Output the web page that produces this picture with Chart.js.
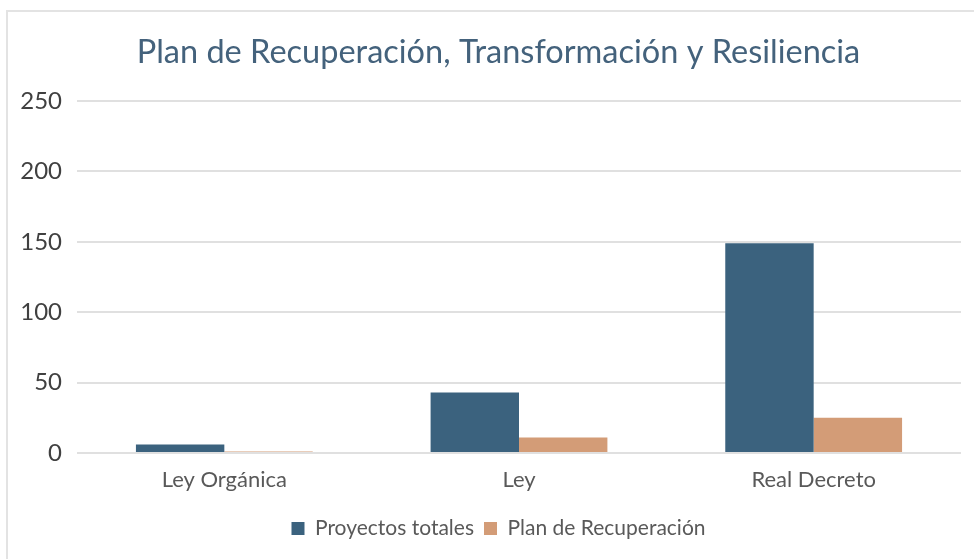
<!DOCTYPE html>
<html>
<head>
<meta charset="utf-8">
<script src="https://cdn.jsdelivr.net/npm/chart.js@4/dist/chart.umd.min.js"></script>
<style>
  html, body { margin: 0; padding: 0; background: #fff; }
  #wrap { position: relative; width: 974px; height: 559px; overflow: hidden; }
  #frame { position: absolute; left: 6px; top: 10px; width: 1000px; height: 600px; border: 2px solid #e3e3e3; box-sizing: border-box; pointer-events: none; }
  canvas { position: absolute; left: 0; top: 0; }
</style>
</head>
<body>
<div id="wrap">
  <div id="frame"></div>
  <canvas id="c" width="974" height="559"></canvas>
</div>
<script>
const titleText = 'Plan de Recuperación, Transformación y Resiliencia';
const categories = ['Ley Orgánica', 'Ley', 'Real Decreto'];
const seriesNames = ['Proyectos totales', 'Plan de Recuperación'];
const proyectosTotales = [6, 43, 149];
const planRecuperacion = [1, 11, 25];
const yTicks = [0, 50, 100, 150, 200, 250];

const FONT = 'Lato, "Open Sans", sans-serif';

new Chart(document.getElementById('c'), {
  type: 'bar',
  data: {
    labels: categories,
    datasets: [
      { label: seriesNames[0], data: proyectosTotales, backgroundColor: '#3b627e', borderWidth: 0 },
      { label: seriesNames[1], data: planRecuperacion, backgroundColor: '#d39c77', borderWidth: 0 }
    ]
  },
  options: {
    responsive: false,
    animation: false,
    devicePixelRatio: 1,
    layout: { padding: { left: 0, right: -23, top: 16, bottom: 10 } },
    datasets: { bar: { categoryPercentage: 0.6, barPercentage: 1.0 } },
    plugins: {
      title: {
        display: true,
        text: titleText,
        color: '#44627c',
        font: { family: FONT, size: 32.5, weight: 'normal' },
        padding: { top: 17, bottom: 29 }
      },
      legend: {
        position: 'bottom',
        labels: {
          color: '#595959',
          font: { family: FONT, size: 21 },
          boxWidth: 13, boxHeight: 13,
          padding: 10
        }
      },
      tooltip: { enabled: false }
    },
    scales: {
      x: {
        grid: { display: false, drawTicks: false },
        border: { display: false },
        ticks: { color: '#595959', font: { family: FONT, size: 22 }, padding: 14 },
        afterFit: (s) => { s.height = 55; }
      },
      y: {
        min: 0, max: 250,
        afterBuildTicks: (s) => { s.ticks = yTicks.map(v => ({ value: v })); },
        grid: { color: '#e0e0e0', lineWidth: 2, drawTicks: false },
        border: { display: false },
        ticks: { color: '#404040', font: { family: FONT, size: 24 }, padding: 15 },
        afterFit: (s) => { s.width = 77; }
      },
      spacer: {
        type: 'linear',
        position: 'right',
        display: true,
        grid: { display: false, drawTicks: false },
        border: { display: false },
        ticks: { display: false },
        afterFit: (s) => { s.width = 36; }
      }
    }
  }
});
</script>
</body>
</html>
